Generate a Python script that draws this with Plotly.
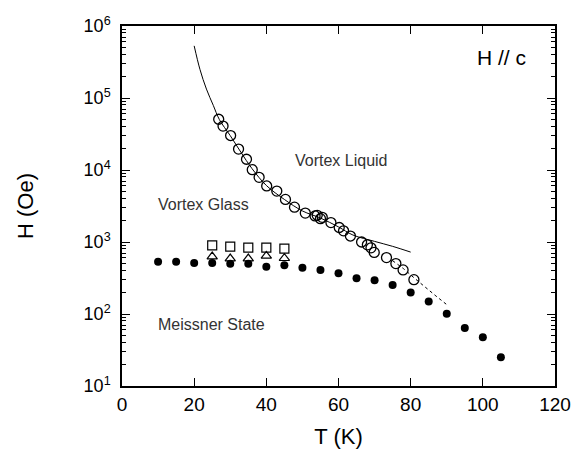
import plotly.graph_objects as go

# Meissner boundary (filled circles)
t_meissner = [10, 15, 20, 25, 30, 35, 40, 45, 50, 55, 60, 65, 70, 75, 80, 85, 90, 95, 100, 105]
h_meissner = [530, 530, 512, 510, 500, 500, 452, 477, 438, 407, 367, 314, 294, 252, 199, 149, 101, 64, 47.4, 25]

# Additional low-field markers
t_square = [25, 30, 35, 40, 45]
h_square = [896, 860, 833, 833, 807]
t_triangle = [25, 30, 35, 40, 45]
h_triangle = [628, 589, 589, 640, 595]

# Vortex glass melting points (open circles)
t_glass = [26.8, 28.0, 30.1, 32.3, 34.5, 36.1, 38.0, 40.1, 42.9, 45.3, 47.8, 50.8,
           53.5, 54.1, 55.0, 55.5, 57.9, 60.2, 61.4, 63.3, 66.4, 68.0, 69.0, 69.9,
           73.3, 75.9, 77.9, 80.9]
h_glass = [50700, 40700, 30100, 19500, 14100, 10100, 7900, 6000, 5100, 3900, 3050, 2520,
           2300, 2350, 2110, 2200, 1860, 1590, 1430, 1210, 1000, 914, 830, 717,
           607, 502, 410, 300]

# Solid guide line through the glass line
t_fit = [20, 21.6, 23.4, 25.3, 27, 30, 33, 36, 40, 45, 50, 55, 60, 64, 70, 75, 80]
h_fit = [530000, 250000, 133000, 79000, 50000, 30000, 17500, 10500, 6100, 3900, 2700,
         2150, 1620, 1250, 1020, 870, 724]

# Dotted extension at high temperature
t_dot = [75, 78, 81, 84, 87, 90]
h_dot = [550, 427, 316, 234, 178, 135]

# Region labels: (text, T, log10 H)
region_labels = [("Vortex Liquid", 47.3, 4.13),
                 ("Vortex Glass", 9.3, 3.52),
                 ("Meissner State", 9.3, 1.86)]

y_tickvals = [10, 100, 1000, 10000, 100000, 1000000]
y_ticktext = ["10<sup>1</sup>", "10<sup>2</sup>", "10<sup>3</sup>",
              "10<sup>4</sup>", "10<sup>5</sup>", "10<sup>6</sup>"]
x_tickvals = [0, 20, 40, 60, 80, 100, 120]

font_family = "Liberation Sans, Arial, sans-serif"

fig = go.Figure()
fig.add_trace(go.Scatter(x=t_fit, y=h_fit, mode="lines",
                         line=dict(color="black", width=1, shape="spline"),
                         showlegend=False))
fig.add_trace(go.Scatter(x=t_dot, y=h_dot, mode="lines",
                         line=dict(color="black", width=1, dash="dot"),
                         showlegend=False))
fig.add_trace(go.Scatter(x=t_glass, y=h_glass, mode="markers",
                         marker=dict(symbol="circle-open", size=10, color="black",
                                     line=dict(width=1.3, color="black")),
                         showlegend=False))
fig.add_trace(go.Scatter(x=t_square, y=h_square, mode="markers",
                         marker=dict(symbol="square-open", size=9, color="black",
                                     line=dict(width=1.2, color="black")),
                         showlegend=False))
fig.add_trace(go.Scatter(x=t_triangle, y=h_triangle, mode="markers",
                         marker=dict(symbol="triangle-up-open", size=9, color="black",
                                     line=dict(width=1.2, color="black")),
                         showlegend=False))
fig.add_trace(go.Scatter(x=t_meissner, y=h_meissner, mode="markers",
                         marker=dict(symbol="circle", size=8, color="black"),
                         showlegend=False))

label_font = dict(family=font_family, size=16, color="#333333")
for txt, x, logy in region_labels:
    fig.add_annotation(x=x, y=logy, yref="y", xref="x", text=txt, showarrow=False,
                       xanchor="left", yanchor="middle", font=label_font)
fig.add_annotation(x=112.6, y=5.56, xref="x", yref="y", text="H // c",
                   showarrow=False, xanchor="right", yanchor="middle",
                   font=dict(family=font_family, size=21, color="black"))

fig.update_layout(
    width=583, height=457,
    margin=dict(l=122, r=26, t=26, b=65),
    paper_bgcolor="white", plot_bgcolor="white",
    font=dict(family=font_family, color="black"),
)
fig.update_xaxes(
    range=[0, 120], tickvals=x_tickvals,
    ticks="inside", ticklen=8, tickwidth=1.2, tickcolor="black",
    showline=True, linecolor="black", linewidth=1.5, mirror="ticks",
    showgrid=False, zeroline=False,
    tickfont=dict(family=font_family, size=19, color="black"),
    title=dict(text="T (K)", font=dict(family=font_family, size=22, color="black"),
               standoff=15),
)
fig.update_yaxes(
    type="log", range=[1, 6], tickvals=y_tickvals, ticktext=y_ticktext,
    ticks="inside", ticklen=8, tickwidth=1.2, tickcolor="black",
    minor=dict(ticks="inside", ticklen=4, tickcolor="black", tickwidth=1,
               dtick="D1", showgrid=False),
    showline=True, linecolor="black", linewidth=1.5, mirror="ticks",
    showgrid=False, zeroline=False,
    tickfont=dict(family=font_family, size=18, color="black"),
    ticklabelstandoff=6,
    title=dict(text="H (Oe)", font=dict(family=font_family, size=22, color="black"),
               standoff=44),
)

fig.write_html("out.html")
